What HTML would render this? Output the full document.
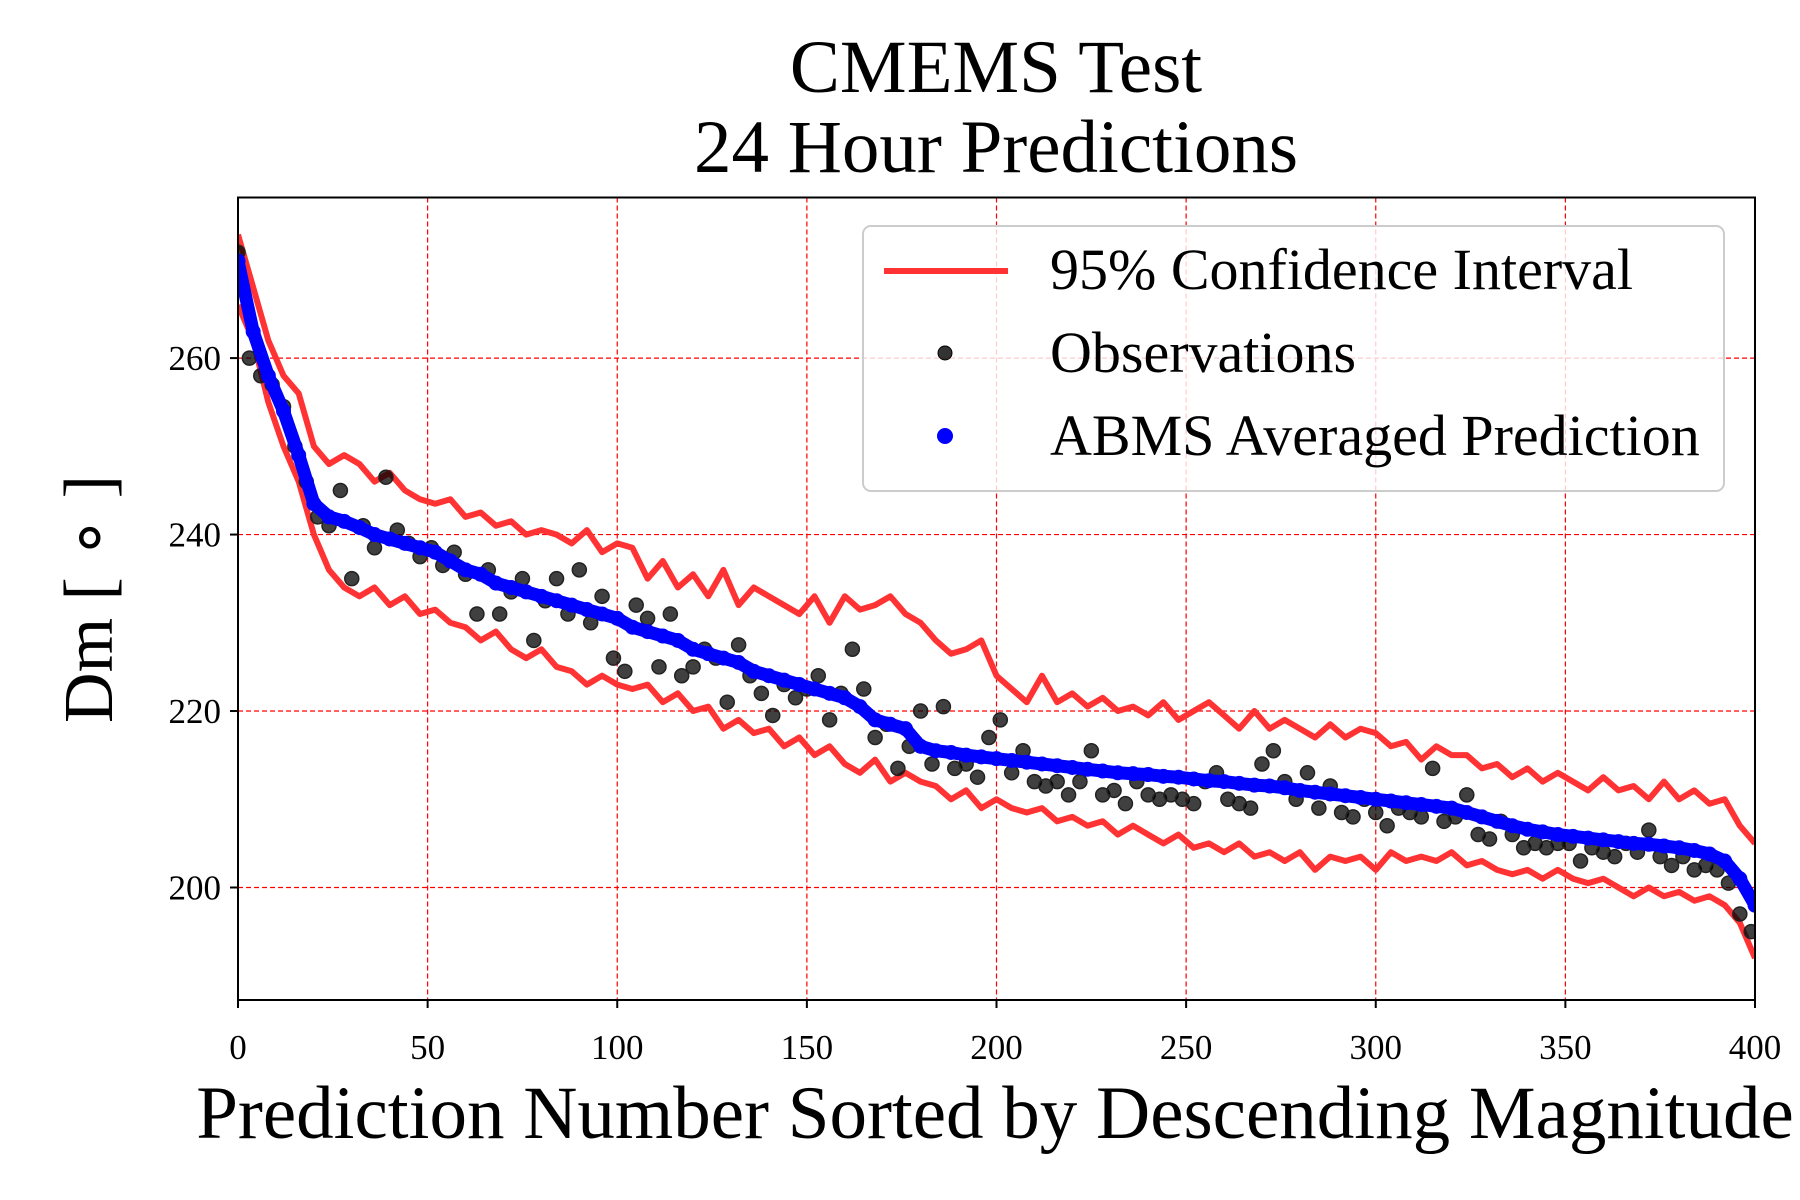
<!DOCTYPE html>
<html><head><meta charset="utf-8"><style>
html,body{margin:0;padding:0;background:#fff;}
svg{display:block;font-family:"Liberation Serif",serif;}
</style></head><body>
<svg id="chart" width="1800" height="1200" viewBox="0 0 1800 1200">
<defs><clipPath id="clip"><rect x="238" y="197.5" width="1517" height="802.5"/></clipPath></defs>
<text x="996" y="92" font-size="75" text-anchor="middle">CMEMS Test</text>
<text x="996" y="172" font-size="75" text-anchor="middle">24 Hour Predictions</text>
<g id="grid"></g>
<g id="ticks"></g>
<g clip-path="url(#clip)" id="marks"></g>
<rect x="238" y="197.5" width="1517" height="802.5" fill="none" stroke="#000" stroke-width="2"/>
<text x="995" y="1138" font-size="75" text-anchor="middle">Prediction Number Sorted by Descending Magnitude</text>
<text transform="translate(112,599) rotate(-90)" font-size="70" text-anchor="middle">Dm [ ∘ ]</text>
<g>
<rect x="863" y="226" width="861" height="265" rx="8" fill="#fff" fill-opacity="0.8" stroke="#ccc" stroke-width="2"/>
<line x1="884" y1="271" x2="1008" y2="271" stroke="#ff3333" stroke-width="6"/>
<text x="1050" y="289" font-size="58">95% Confidence Interval</text>
<circle cx="945" cy="353" r="7" fill="#000" fill-opacity="0.8" stroke="#000"/>
<text x="1050" y="372" font-size="58">Observations</text>
<circle cx="945" cy="436" r="8" fill="#0000ff"/>
<text x="1050" y="455" font-size="58">ABMS Averaged Prediction</text>
</g>
</svg>
<script>
const xTicks=[0,50,100,150,200,250,300,350,400];
const yTicks=[200,220,240,260];
const upperCI=[274,268,262,258,256,250,248,249,248,246,247,245,244,243.5,244,242,242.5,241,241.5,240,240.5,240,239,240.5,238,239,238.5,235,237,234,235.5,233,236,232,234,233,232,231,233,230,233,231.5,232,233,231,230,228,226.5,227,228,224,222.5,221,224,221,222,220.5,221.5,220,220.5,219.5,221,219,220,221,219.5,218,220,218,219,218,217,218.5,217,218,217.5,216,216.5,214.5,216,215,215,213.5,214,212.5,213.5,212,213,212,211,212.5,211,211.5,210,212,210,211,209.5,210,207,205];
const lowerCI=[266,262,255,250,246,240,236,234,233,234,232,233,231,231.5,230,229.5,228,229,227,226,227,225,224.5,223,224,223,222.5,223,221,222,220,220.5,218,219,217.5,218,216,217,215,216,214,213,214.5,212,213,212,211.5,210,211,209,210,209,208.5,209,207.5,208,207,207.5,206,207,206,205,206,204.5,205,204,205,203.5,204,203,204,202,203.5,203,203.5,202,204,203,203.5,203,204,202.5,203,202,201.5,202,201,202,201,200.5,201,200,199,200,199,199.5,198.5,199,198,196,192];
const observations=[272,260,258,257,254.5,250,246,242,241,245,235,241,238.5,246.5,240.5,239,237.5,238.5,236.5,238,235.5,231,236,231,233.5,235,228,232.5,235,231,236,230,233,226,224.5,232,230.5,225,231,224,225,227,226,221,227.5,224,222,219.5,223,221.5,222.5,224,219,222,227,222.5,217,218.5,213.5,216,220,214,220.5,213.5,214,212.5,217,219,213,215.5,212,211.5,212,210.5,212,215.5,210.5,211,209.5,212,210.5,210,210.5,210,209.5,212,213,210,209.5,209,214,215.5,212,210,213,209,211.5,208.5,208,210,208.5,207,209,208.5,208,213.5,207.5,208,210.5,206,205.5,207.5,206,204.5,205,204.5,205,205,203,204.5,204,203.5,205,204,206.5,203.5,202.5,203.5,202,202.5,202,200.5,197,195];
const prediction=[271,263,258,254,249,243.5,242,241.5,240.8,240,239.5,239,238.5,238,237,236,235.5,234.5,234,233.5,233,232.5,232,231.5,231,230.5,229.5,229,228.5,228,227,226.5,226,225.5,224.5,224,223.5,223,222.5,222,221.5,220.5,219,218.5,218,216,215.5,215.3,215,214.8,214.6,214.4,214.2,214,213.8,213.6,213.4,213.2,213,212.9,212.8,212.6,212.5,212.3,212.1,212,211.8,211.6,211.5,211.3,211,210.8,210.6,210.4,210.2,210,209.8,209.6,209.4,209.2,209,208.5,208,207.5,207,206.6,206.3,206,205.8,205.6,205.4,205.2,205,204.9,204.7,204.5,204.2,203.8,203,201,198];
const obsStep=3;
const NS='http://www.w3.org/2000/svg';
const L=238,R=1755,T=197.5,B=1000,XMIN=0,XMAX=400,YMIN=187.25,YMAX=278.2;
function sx(v){return L+(v-XMIN)/(XMAX-XMIN)*(R-L);}
function sy(v){return B-(v-YMIN)/(YMAX-YMIN)*(B-T);}
function mk(tag,attrs,parent){const e=document.createElementNS(NS,tag);for(const k in attrs)e.setAttribute(k,attrs[k]);parent.appendChild(e);return e;}
const grid=document.getElementById('grid'),ticks=document.getElementById('ticks'),marks=document.getElementById('marks');
xTicks.forEach(t=>{
  const x=sx(t);
  if(t>XMIN&&t<XMAX){const g=mk('line',{x1:x,y1:T,x2:x,y2:B,stroke:'#ff0000','stroke-width':1.2,'stroke-dasharray':'5,3'},grid);
  
  }
  const tk=mk('line',{x1:x,y1:B,x2:x,y2:B+8,stroke:'#000','stroke-width':2},ticks);
  
  
  const lb=mk('text',{x:x,y:1059,'font-size':35,'text-anchor':'middle'},ticks);lb.textContent=t;
  
  
});
yTicks.forEach(t=>{
  const y=sy(t);
  const g=mk('line',{x1:L,y1:y,x2:R,y2:y,stroke:'#ff0000','stroke-width':1.2,'stroke-dasharray':'5,3'},grid);
  
  
  const tk=mk('line',{x1:L-8,y1:y,x2:L,y2:y,stroke:'#000','stroke-width':2},ticks);
  
  
  const lb=mk('text',{x:L-17,y:y+12,'font-size':35,'text-anchor':'end'},ticks);lb.textContent=t;
  
  
});
function pts(arr){const st=(XMAX-XMIN)/(arr.length-1);return arr.map((v,i)=>sx(XMIN+i*st).toFixed(1)+','+sy(v).toFixed(1)).join(' ');}
const up=mk('polyline',{points:pts(upperCI),fill:'none',stroke:'#ff3333','stroke-width':6,'stroke-linejoin':'round'},marks);


const lo=mk('polyline',{points:pts(lowerCI),fill:'none',stroke:'#ff3333','stroke-width':6,'stroke-linejoin':'round'},marks);


observations.forEach((v,i)=>{
  const c=mk('circle',{cx:sx(i*obsStep),cy:sy(v),r:7,fill:'#000','fill-opacity':0.75,stroke:'#222','stroke-width':1.5},marks);
  
  
});
const pl=mk('polyline',{points:pts(prediction),fill:'none',stroke:'#0000ff','stroke-width':13,'stroke-linejoin':'round','stroke-linecap':'round'},marks);


const pst=(XMAX-XMIN)/(prediction.length-1);
prediction.forEach((v,i)=>{
  const c=mk('circle',{cx:sx(i*pst),cy:sy(v),r:7.5,fill:'#0000ff'},marks);
  
  
});
</script>
</body></html>
